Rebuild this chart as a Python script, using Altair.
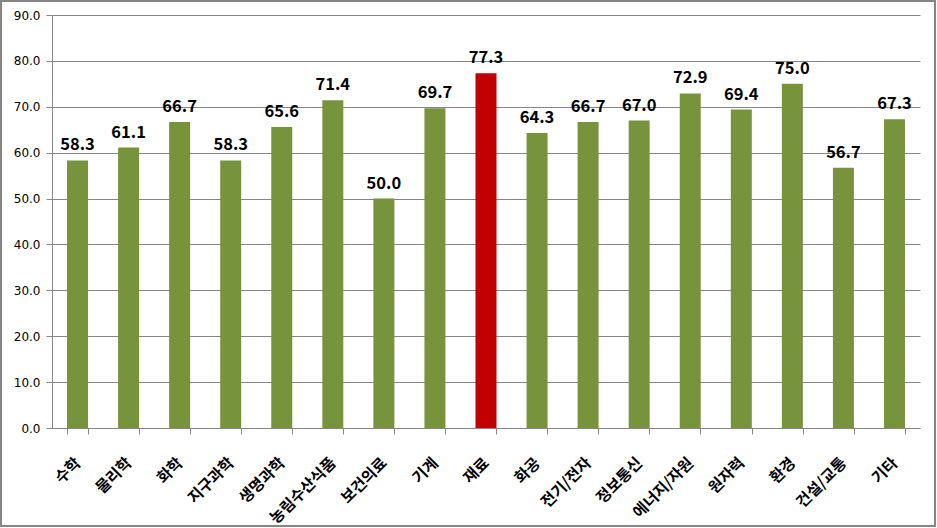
import altair as alt
import pandas as pd

categories = ["수학", "물리학", "화학", "지구과학", "생명과학", "농림수산식품", "보건의료", "기계", "재료",
              "화공", "전기/전자", "정보통신", "에너지/자원", "원자력", "환경", "건설/교통", "기타"]
values = [58.3, 61.1, 66.7, 58.3, 65.6, 71.4, 50.0, 69.7, 77.3,
          64.3, 66.7, 67.0, 72.9, 69.4, 75.0, 56.7, 67.3]
highlight = "재료"

df = pd.DataFrame({"category": categories, "value": values})

W, H = 868, 413
GRAY = "#868686"

x = alt.X("category:N", sort=categories, title=None,
          scale=alt.Scale(paddingInner=0.6, paddingOuter=0.3),
          axis=alt.Axis(labelAngle=-45, labelAlign="right", labelBaseline="middle",
                        labelFont="Noto Sans CJK KR", labelFontSize=15.5, labelFontWeight="bold",
                        labelColor="black", labelPadding=26, tickBand="extent",
                        tickColor=GRAY, tickSize=6, domainColor=GRAY, grid=False))
y = alt.Y("value:Q", title=None,
          scale=alt.Scale(domain=[0, 90], nice=False),
          axis=alt.Axis(values=list(range(0, 91, 10)), format=".1f",
                        labelFont="DejaVu Sans", labelFontSize=12, labelColor="black",
                        labelPadding=6, tickColor=GRAY, tickSize=6, domainColor=GRAY,
                        gridColor=GRAY, gridOpacity=1))

bars = alt.Chart(df).mark_bar(size=21).encode(
    x=x, y=y,
    color=alt.condition(alt.datum.category == highlight, alt.value("#C00000"), alt.value("#77933C")),
)

labels = alt.Chart(df).mark_text(dy=-10, baseline="alphabetic", font="Noto Sans CJK KR",
                                 fontSize=16.5, fontWeight="bold", color="black").encode(
    x=alt.X("category:N", sort=categories),
    y=alt.Y("value:Q"),
    text=alt.Text("value:Q", format=".1f"),
)

frame = alt.Chart(df).mark_rect(fill=None, stroke=GRAY, strokeWidth=1.5).encode(
    x=alt.value(-51), x2=alt.value(W + 15), y=alt.value(-14), y2=alt.value(H + 98)
)

chart = alt.layer(bars, labels, frame).properties(
    width=W, height=H,
    autosize=alt.AutoSizeParams(type="none"),
    padding={"left": 52, "top": 15, "right": 17, "bottom": 100},
    background="white",
).configure_view(stroke=None)

chart.save("out.html", embed_options={"renderer": "svg", "actions": False})
